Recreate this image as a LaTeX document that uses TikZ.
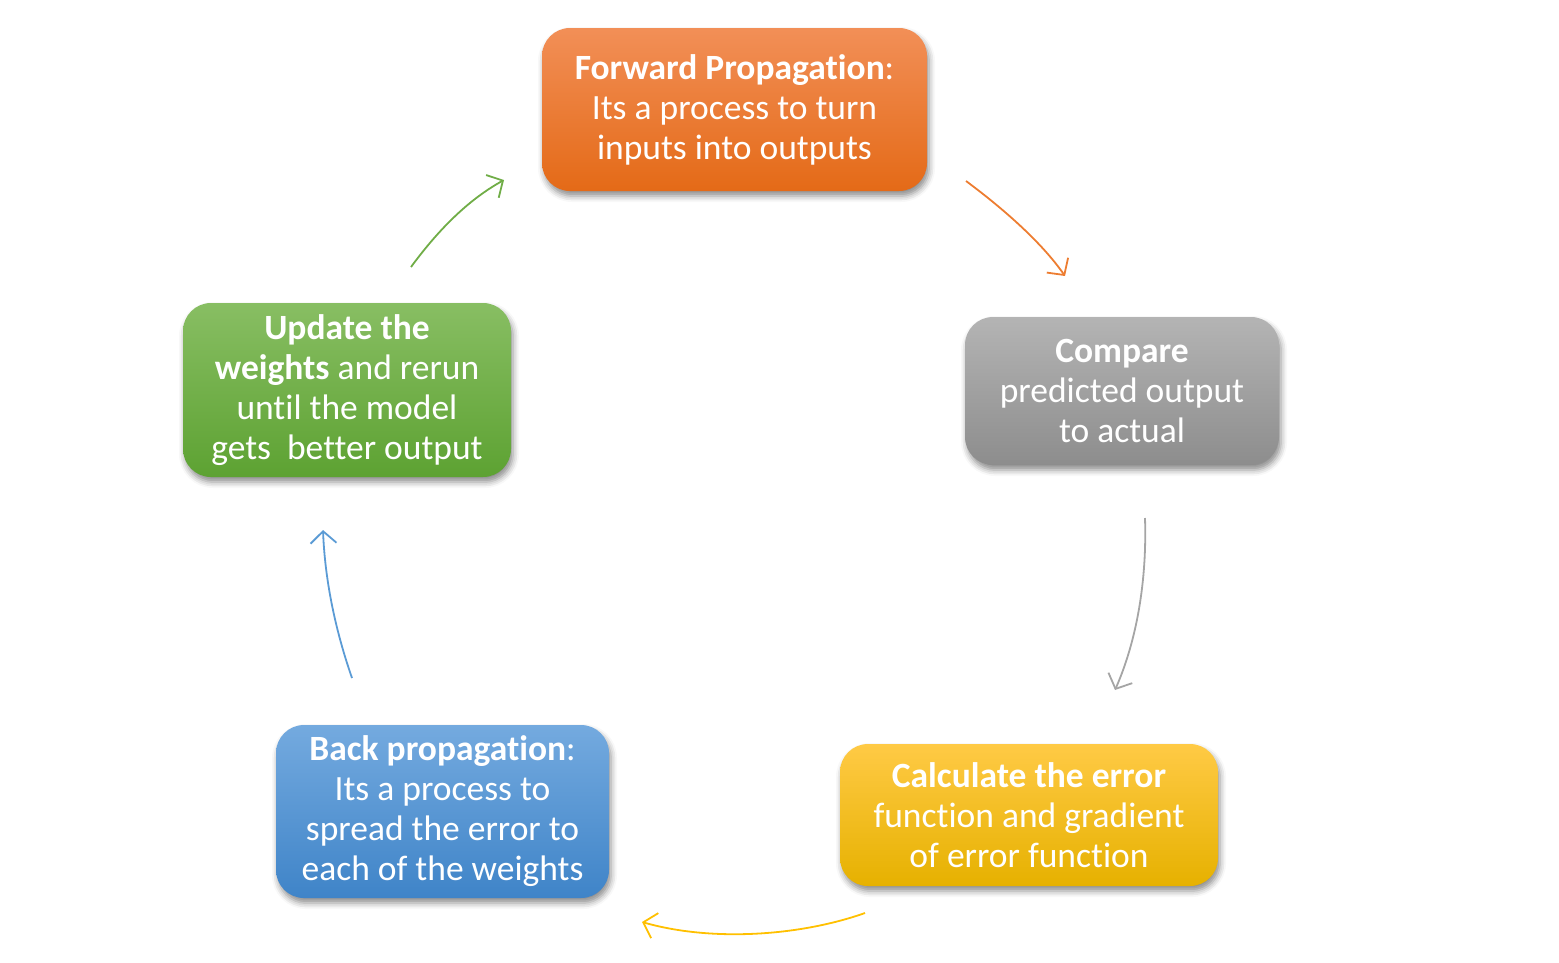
\documentclass[tikz,border=0pt]{standalone}
\usepackage{fontspec}
\setmainfont{Carlito}[Ligatures={NoCommon,NoContextual,NoRequired}]
\usetikzlibrary{arrows.meta,shadows.blur}
\definecolor{orT}{HTML}{F28F57}\definecolor{orB}{HTML}{E46A17}
\definecolor{grT}{HTML}{B4B4B4}\definecolor{grB}{HTML}{8D8D8D}
\definecolor{yeT}{HTML}{FFCA45}\definecolor{yeB}{HTML}{E6B100}
\definecolor{blT}{HTML}{74AADF}\definecolor{blB}{HTML}{3F84C8}
\definecolor{gnT}{HTML}{88BE63}\definecolor{gnB}{HTML}{5DA232}
\definecolor{orA}{HTML}{ED7D31}\definecolor{grA}{HTML}{A5A5A5}
\definecolor{yeA}{HTML}{FFC000}\definecolor{blA}{HTML}{5B9BD5}
\definecolor{gnA}{HTML}{70AD47}
\begin{document}
\begin{tikzpicture}[x=1pt,y=-1pt,
  box/.style={rounded corners=28pt, text=white, align=center, inner sep=0pt,
    font=\fontsize{35.5}{40}\selectfont,
    blur shadow={shadow xshift=2pt, shadow yshift=-5pt, shadow blur radius=6pt, shadow opacity=45}},
  cyc/.style={line width=1.8pt, -{Straight Barb[length=12pt,width=26pt,line width=1.8pt]}}]
\useasboundingbox (0,0) rectangle (1559,962);
\node[box, top color=orT, bottom color=orB, minimum width=385pt, minimum height=163pt] (fwd) at (734.5,109.5)
  {\textbf{Forward Propagation}:\\Its a process to turn\\inputs into outputs};
\node[box, top color=grT, bottom color=grB, minimum width=314pt, minimum height=148pt] (cmp) at (1122,391)
  {\textbf{Compare}\\predicted output\\to actual};
\node[box, top color=yeT, bottom color=yeB, minimum width=378pt, minimum height=142pt] (calc) at (1029,815)
  {\textbf{Calculate the error}\\function and gradient\\of error function};
\node[box, top color=blT, bottom color=blB, minimum width=333pt, minimum height=173pt] (back) at (442.5,811.5)
  {\textbf{Back propagation}:\\Its a process to\\spread the error to\\each of the weights};
\node[box, top color=gnT, bottom color=gnB, minimum width=328pt, minimum height=174pt] (upd) at (347,390)
  {\textbf{Update the}\\\textbf{weights} and rerun\\until the model\\gets\ \ better output};
\coordinate (fwdOut) at (966,181);  \coordinate (cmpIn) at (1065,276);
\coordinate (cmpOut) at (1145,518); \coordinate (calcIn) at (1115,690);
\coordinate (calcOut) at (865,913); \coordinate (backIn) at (642,922);
\coordinate (backOut) at (352,678); \coordinate (updIn) at (323,530);
\coordinate (updOut) at (411,267);  \coordinate (fwdIn) at (504,180);
\draw[cyc, orA] (fwdOut) .. controls (1005,210) and (1042,243) .. (cmpIn);
\draw[cyc, grA] (cmpOut) .. controls (1147,580) and (1137,640) .. (calcIn);
\draw[cyc, yeA] (calcOut) .. controls (800,936) and (712,942) .. (backIn);
\draw[cyc, blA] (backOut) .. controls (336,632) and (325,582) .. (updIn);
\draw[cyc, gnA] (updOut) .. controls (436,233) and (466,201) .. (fwdIn);
\end{tikzpicture}
\end{document}
